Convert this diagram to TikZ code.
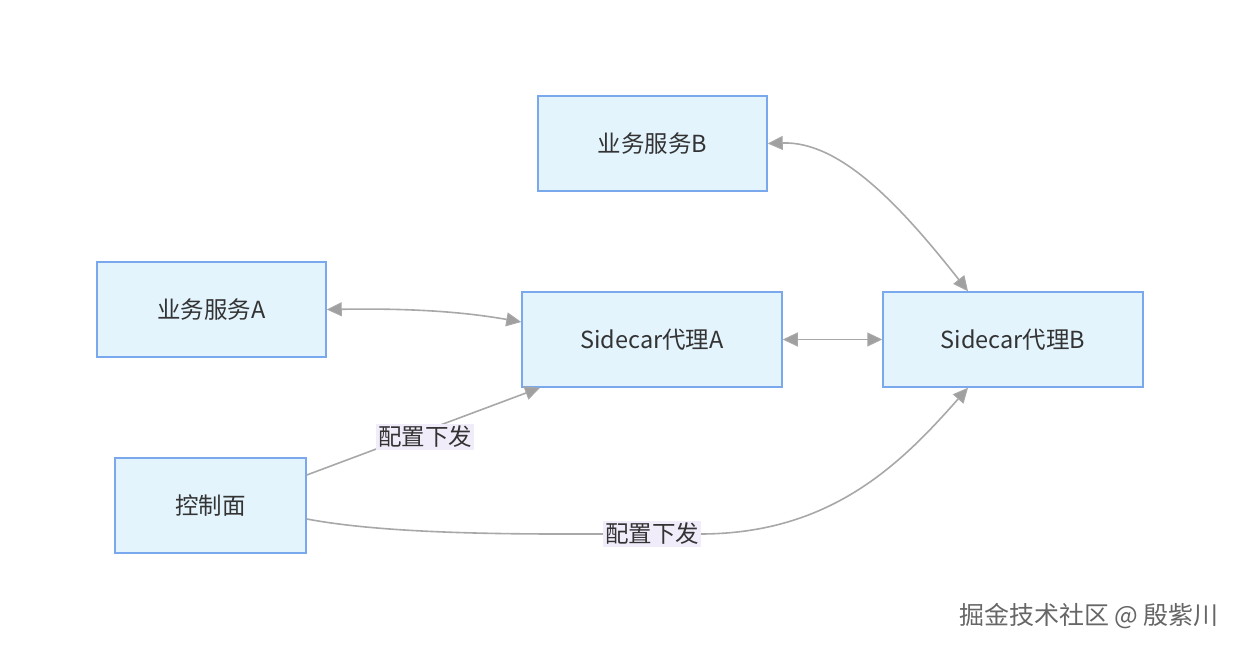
\documentclass[tikz,border=0pt]{standalone}
\usepackage{fontspec}
\setmainfont{Noto Sans CJK SC}
\usetikzlibrary{arrows.meta}
\definecolor{boxfill}{HTML}{E3F4FD}
\definecolor{boxline}{HTML}{7AA8EC}
\definecolor{edgec}{HTML}{A8A8A8}
\definecolor{tipfill}{HTML}{A0A0A0}
\definecolor{lblfill}{HTML}{F1ECFA}
\definecolor{txt}{HTML}{333333}
\tikzset{
  svc/.style={draw=boxline, fill=boxfill, line width=1.5pt, minimum height=95pt, inner sep=0pt, text=txt, font=\fontsize{23.5}{28}\selectfont},
  conn/.style={draw=edgec, line width=1.6pt},
  tipA/.tip={Triangle[length=15pt,width=14pt,fill=tipfill,line width=1pt]},
  lbl/.style={fill=lblfill, inner sep=2pt, text=txt, font=\fontsize{23.5}{28}\selectfont},
}
\begin{document}
\begin{tikzpicture}[x=1pt,y=-1pt]
\useasboundingbox (0,0) rectangle (1239,650);
\node[svc, minimum width=229pt] (b) at (652.5,143.5) {业务服务B};
\node[svc, minimum width=229pt] (a) at (211.5,309.5) {业务服务A};
\node[svc, minimum width=260pt] (sa) at (652,339.5) {Sidecar代理A};
\node[svc, minimum width=260pt] (sb) at (1013,339.5) {Sidecar代理B};
\node[svc, minimum width=191pt] (cp) at (210.5,505.5) {控制面};

\draw[conn, {tipA}-{tipA}] (a.east) .. controls (420,308) and (470,313) .. ([yshift=17.5pt]sa.west);
\draw[conn, {tipA}-{tipA}] (sa.east) -- (sb.west);
\draw[conn, {tipA}-{tipA}] (b.east) .. controls (840,141) and (900,205) .. ([xshift=-45pt]sb.north);
\draw[conn, -{tipA}] ([yshift=30.5pt]cp.east) -- ([xshift=-112pt]sa.south);
\draw[conn, -{tipA}] ([yshift=-13.5pt]cp.east) .. controls (360,529) and (440,534) .. (560,534) -- (700,534) .. controls (830,534) and (900,465) .. ([xshift=-45pt]sb.south);

\node[lbl] (l1) at (425,437) {配置下发};
\node[lbl] (l2) at (652,534) {配置下发};

\node[text=gray!80!black, font=\fontsize{25}{30}\selectfont] (wm) at (1089,616) {掘金技术社区 @ 殷紫川};
\end{tikzpicture}
\end{document}
